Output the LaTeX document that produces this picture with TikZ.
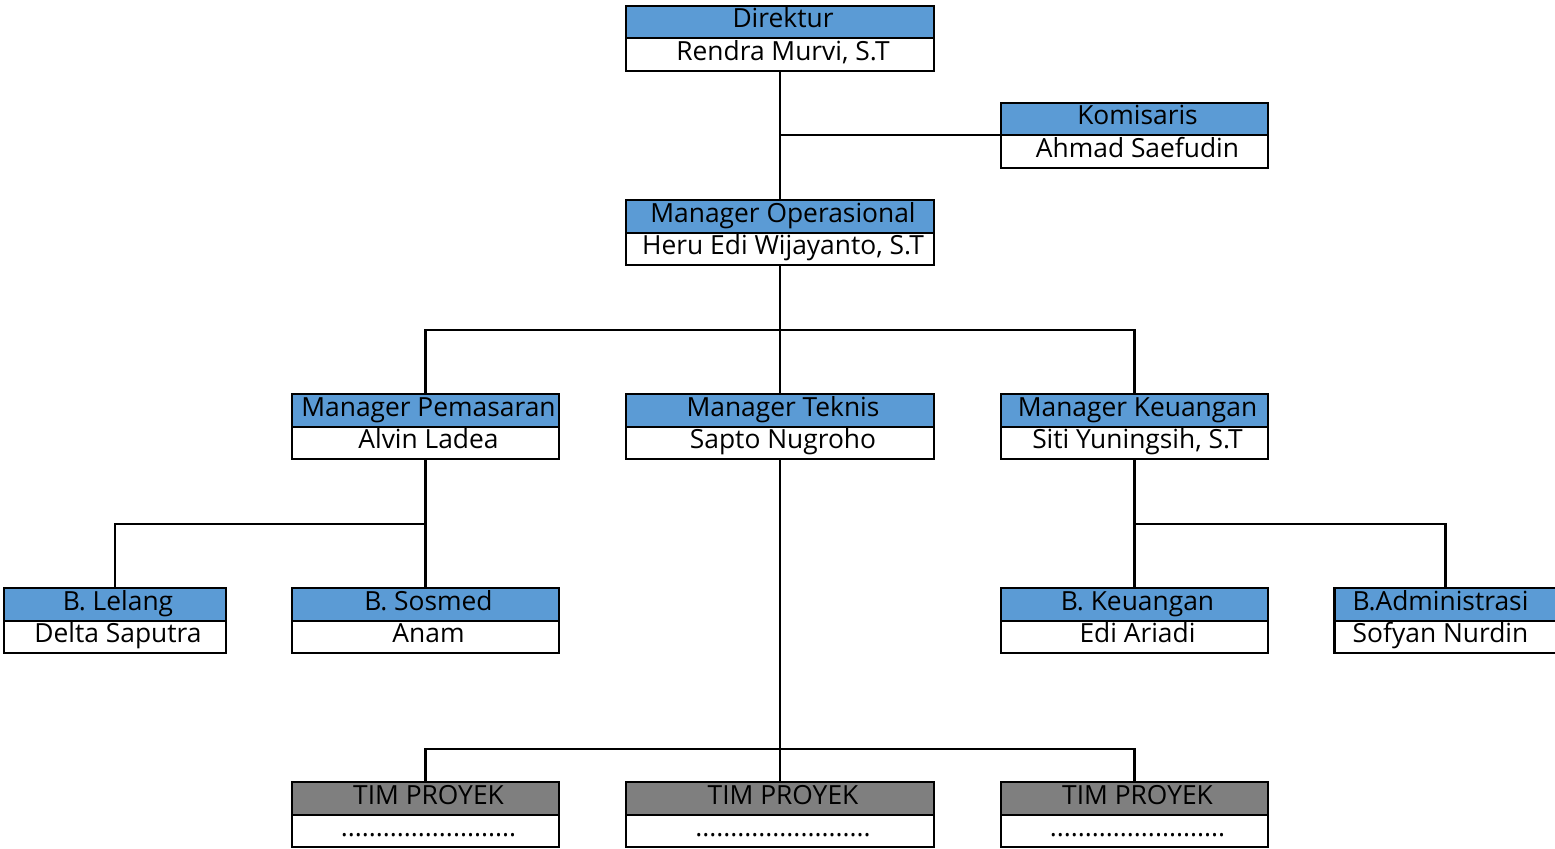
\documentclass[tikz,border=0pt]{standalone}
\usepackage{fontspec}
\setmainfont{Open Sans}
\usetikzlibrary{positioning,calc}
\definecolor{biru}{HTML}{5B9BD5}
\definecolor{abu}{HTML}{7F7F7F}

\begin{document}
\begin{tikzpicture}[
    line width=1.2pt,
    geser/.style={execute at begin node={\hspace*{#1}}},
    every node/.style={font=\fontsize{15pt}{18pt}\selectfont, inner sep=0pt, outer sep=0pt,
        text height=0.80em, text depth=0.16em, minimum height=0.65cm, geser=0.12cm},
    jabatan/.style={draw, fill=biru},
    tim/.style={draw, fill=abu},
    lebar/.style={minimum width=6.16cm},
    sedang/.style={minimum width=5.34cm},
    kecil/.style={minimum width=4.44cm}
]
    \useasboundingbox (0,0) rectangle (31.1,-16.96);

    \node[jabatan, lebar] (dir) at (15.6,-0.44) {Direktur};
    \node[draw, fill=white, lebar, below=0pt of dir] (dirN) {Rendra Murvi, S.T};
    \node[jabatan, sedang] (kom) at (22.69,-2.38) {Komisaris};
    \node[draw, fill=white, sedang, below=0pt of kom] (komN) {Ahmad Saefudin};
    \node[jabatan, lebar] (ops) at (15.6,-4.33) {Manager Operasional};
    \node[draw, fill=white, lebar, below=0pt of ops] (opsN) {Heru Edi Wijayanto, S.T};

    \node[jabatan, sedang] (pem) at (8.51,-8.21) {Manager Pemasaran};
    \node[draw, fill=white, sedang, below=0pt of pem] (pemN) {Alvin Ladea};
    \node[jabatan, lebar] (tek) at (15.6,-8.21) {Manager Teknis};
    \node[draw, fill=white, lebar, below=0pt of tek] (tekN) {Sapto Nugroho};
    \node[jabatan, sedang] (keu) at (22.69,-8.21) {Manager Keuangan};
    \node[draw, fill=white, sedang, below=0pt of keu] (keuN) {Siti Yuningsih, S.T};

    \node[jabatan, kecil] (lel) at (2.30,-12.09) {B. Lelang};
    \node[draw, fill=white, kecil, below=0pt of lel] (lelN) {Delta Saputra};
    \node[jabatan, sedang] (sos) at (8.51,-12.09) {B. Sosmed};
    \node[draw, fill=white, sedang, below=0pt of sos] (sosN) {Anam};
    \node[jabatan, sedang] (bkeu) at (22.69,-12.09) {B. Keuangan};
    \node[draw, fill=white, sedang, below=0pt of bkeu] (bkeuN) {Edi Ariadi};
    \node[jabatan, kecil, geser=-0.32cm] (adm) at (28.91,-12.09) {B.Administrasi};
    \node[draw, fill=white, kecil, geser=-0.32cm, below=0pt of adm] (admN) {Sofyan Nurdin};

    \node[tim, sedang] (tim1) at (8.51,-15.97) {TIM PROYEK};
    \node[draw, fill=white, sedang, below=0pt of tim1] (tim1N) {.........................};
    \node[tim, lebar] (tim2) at (15.6,-15.97) {TIM PROYEK};
    \node[draw, fill=white, lebar, below=0pt of tim2] (tim2N) {.........................};
    \node[tim, sedang] (tim3) at (22.69,-15.97) {TIM PROYEK};
    \node[draw, fill=white, sedang, below=0pt of tim3] (tim3N) {.........................};

    % garis
    \draw (dirN.south) -- (ops.north);
    \draw (kom.south west) -- (kom.south west -| dirN.south);
    \draw (opsN.south) -- (tek.north);
    \draw (pem.north) |- ($(opsN.south)!0.5!(tek.north)$) -| (keu.north);
    \draw (pemN.south) -- (sos.north);
    \draw (lel.north) |- ($(pemN.south)!0.5!(sos.north)$);
    \draw (keuN.south) -- (bkeu.north);
    \draw (adm.north) |- ($(keuN.south)!0.5!(bkeu.north)$);
    \draw (tekN.south) -- (tim2.north);
    \draw (tim1.north) |- ++(0,0.66) -| (tim3.north);
\end{tikzpicture}
\end{document}
